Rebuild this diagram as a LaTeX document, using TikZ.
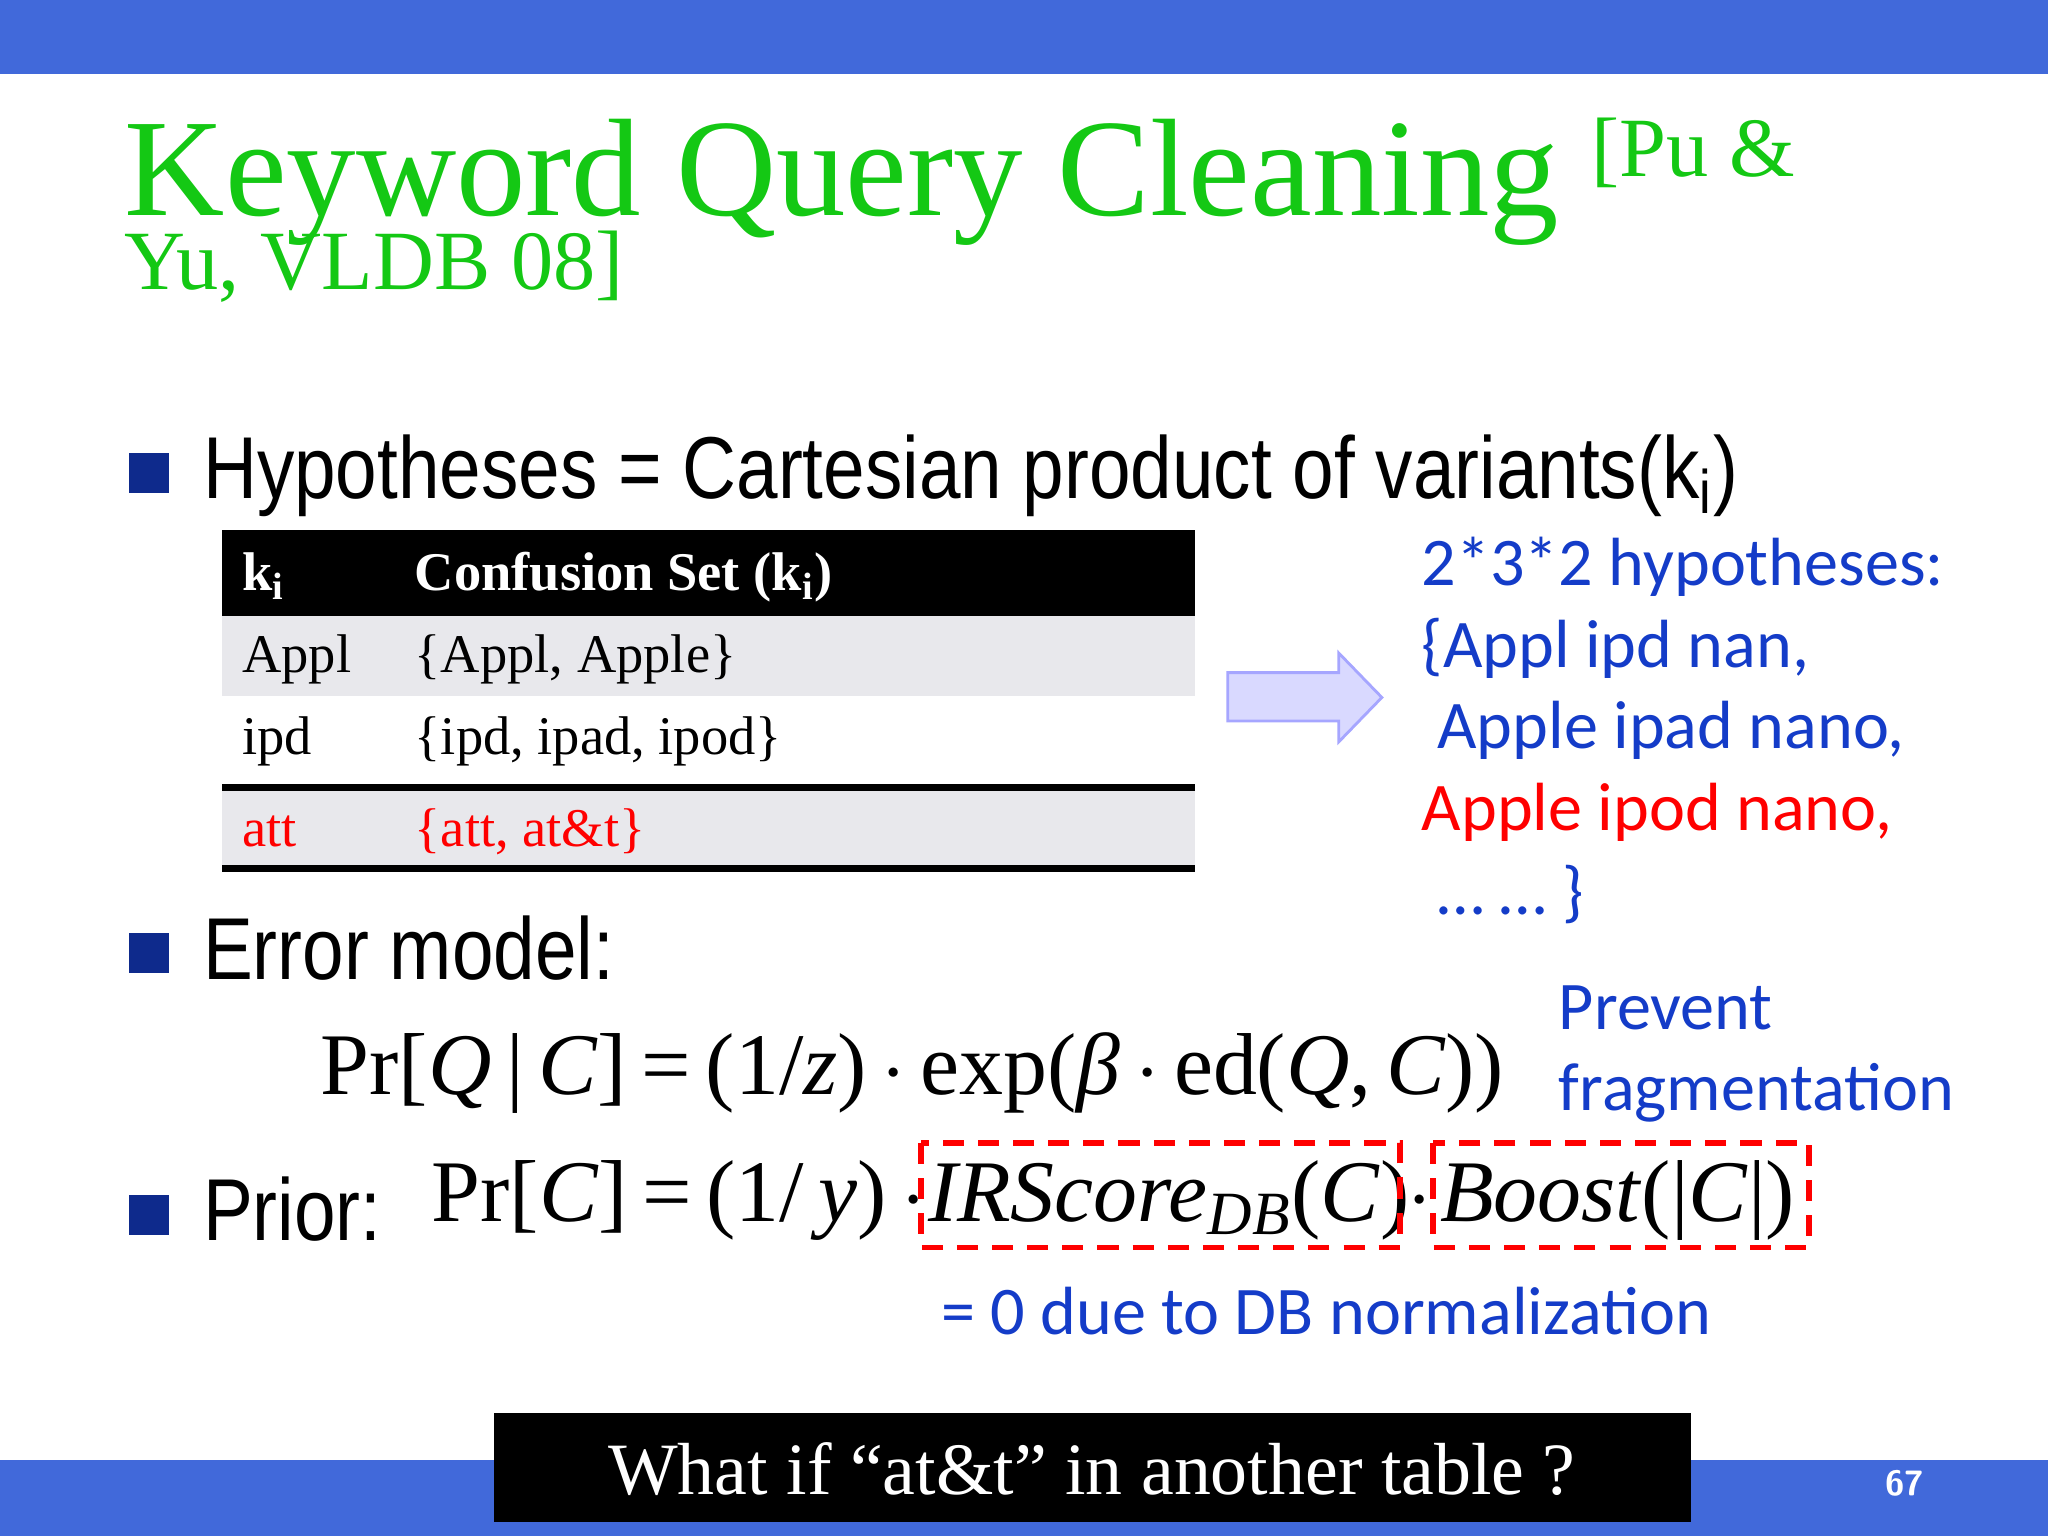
\documentclass[tikz,border=0pt]{standalone}
\usepackage{fontspec}
\setmainfont{Liberation Serif}
\newfontfamily\narrow[FakeStretch=0.85]{Liberation Sans}
\newfontfamily\calfont{Carlito}
\definecolor{barblue}{RGB}{65,105,218}
\definecolor{tgreen}{RGB}{20,200,20}
\definecolor{tblue}{RGB}{20,60,200}
\definecolor{rowgray}{RGB}{232,232,236}
\begin{document}
\begin{tikzpicture}[x=0.013061cm,y=-0.013061cm,
  txt/.style={anchor=base west,inner sep=0pt},
  bul/.style={fill=tblue!70!black,minimum size=0.40cm,inner sep=0pt},
  hyp/.style={txt,font=\calfont\fontsize{19.4}{22}\selectfont,text=tblue},
  fml/.style={txt,font=\fontsize{25}{30}\selectfont},
  dbox/.style={draw=red,dashed,line width=1.6pt,dash pattern=on 6pt off 4pt}]
\useasboundingbox (0,0) rectangle (1568,1176);
\fill[barblue] (0,0) rectangle (1568,57);
\fill[barblue] (0,1118) rectangle (1568,1176);
% title
\node[txt,text=tgreen,font=\fontsize{39.5}{42}\selectfont] (t1) at (95,165) {Keyword Query Cleaning};
\node[txt,text=tgreen,font=\fontsize{24}{28}\selectfont] (t2) at (1218,135) {[Pu \&};
\node[txt,text=tgreen,font=\fontsize{24}{28}\selectfont] (t3) at (95,222) {Yu, VLDB 08]};
% bullets
\node[bul] (b1) at (114,362) {};
\node[txt,font=\narrow\fontsize{25}{30}\selectfont] (h1) at (155,382) {Hypotheses = Cartesian product of variants(k\textsubscript{i})};
\node[bul] (b2) at (114,730) {};
\node[txt,font=\narrow\fontsize{25}{30}\selectfont] (h2) at (155,750) {Error model:};
\node[bul] (b3) at (114,930) {};
\node[txt,font=\narrow\fontsize{25}{30}\selectfont] (h3) at (155,950) {Prior:};
% table
\fill[black] (170,406) rectangle (915,472);
\fill[rowgray] (170,472) rectangle (915,533);
\fill[rowgray] (170,603) rectangle (915,665);
\draw[line width=2pt] (170,603) -- (915,603);
\draw[line width=2pt] (170,665) -- (915,665);
\node[txt,text=white,font=\bfseries\fontsize{15.5}{18}\selectfont] (c1) at (185,452) {k\textsubscript{i}};
\node[txt,text=white,font=\bfseries\fontsize{15.5}{18}\selectfont] (c2) at (317,452) {Confusion Set (k\textsubscript{i})};
\node[txt,font=\fontsize{15.5}{18}\selectfont] (r1a) at (185,515) {Appl};
\node[txt,font=\fontsize{15.5}{18}\selectfont] (r1b) at (317,515) {\{Appl, Apple\}};
\node[txt,font=\fontsize{15.5}{18}\selectfont] (r2a) at (185,578) {ipd};
\node[txt,font=\fontsize{15.5}{18}\selectfont] (r2b) at (317,578) {\{ipd, ipad, ipod\}};
\node[txt,text=red,font=\fontsize{15.5}{18}\selectfont] (r3a) at (185,648) {att};
\node[txt,text=red,font=\fontsize{15.5}{18}\selectfont] (r3b) at (317,648) {\{att, at\&t\}};
% arrow
\draw[draw=blue!35,fill=blue!15,line width=0.8pt] (940,515) -- (1025,515) -- (1025,500) -- (1058,534) -- (1025,568) -- (1025,552) -- (940,552) -- cycle;
% hypotheses
\node[hyp] (y1) at (1088,448) {2*3*2 hypotheses:};
\node[hyp] (y2) at (1088,511) {\{Appl ipd nan,};
\node[hyp] (y3) at (1100,573) {Apple ipad nano,};
\node[hyp,text=red] (y4) at (1088,636) {Apple ipod nano,};
\node[hyp] (y5) at (1100,700) {… … \}};
\node[hyp] (p1) at (1193,788) {Prevent};
\node[hyp] (p2) at (1193,850) {fragmentation};
% formulas
\node[fml] (f1) at (245,838) {Pr[\textit{Q}\,|\,\textit{C}]\,=\,(1/\textit{z})\,$\cdot$\,exp(\textit{β}\,$\cdot$\,ed(\textit{Q},\,\textit{C}))};
\node[fml] (f2) at (330,935) {Pr[\textit{C}]\,=\,(1/\,\textit{y})\,$\cdot$};
\node[fml] (f3) at (710,935) {\textit{IRScore\textsubscript{DB}}(\textit{C})};
\node[fml] (f4) at (1077,935) {$\cdot$};
\node[fml] (f5) at (1102,935) {\textit{Boost}(|\textit{C}|)};
\draw[dbox] (705,875) rectangle (1072,955);
\draw[dbox] (1097,875) rectangle (1385,955);
\node[hyp] (z) at (720,1022) {= 0 due to DB normalization};
% bottom
\fill[black] (378,1082) rectangle (1295,1165);
\node[text=white,font=\fontsize{21}{24}\selectfont] (q) at (836,1125) {What if “at\&t” in another table ?};
\node[text=white,font=\sffamily\bfseries\fontsize{10}{12}\selectfont] (n) at (1458,1136) {67};
\end{tikzpicture}
\end{document}
